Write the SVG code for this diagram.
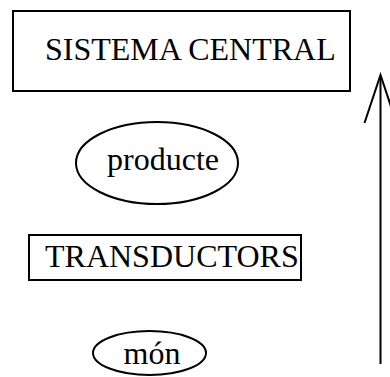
<svg xmlns="http://www.w3.org/2000/svg" width="390" height="377" viewBox="0 0 390 377">
<style>
.s{fill:#fff;stroke:#000;stroke-width:2}
.t{font-family:"Liberation Serif","Times New Roman",serif;font-size:32px;fill:#000}
.c{fill:none;stroke:#000;stroke-width:2}
</style>
<rect width="390" height="377" fill="#fff"/>
<g id="sistema">
<rect class="s" x="13" y="11" width="337" height="80"/>
<text class="t" x="45" y="59.5">SISTEMA CENTRAL</text>
</g>
<g id="producte">
<ellipse class="s" cx="157" cy="163" rx="81" ry="41"/>
<text class="t" x="163" y="170" text-anchor="middle">producte</text>
</g>
<g id="transductors">
<rect class="s" x="29" y="235" width="272" height="45"/>
<text class="t" x="45" y="267">TRANSDUCTORS</text>
</g>
<g id="mon">
<ellipse class="s" cx="149.5" cy="353" rx="56.5" ry="22"/>
<text class="t" x="152" y="363.5" text-anchor="middle">món</text>
</g>
<g id="connectors">
<line class="c" x1="380.5" y1="364" x2="380.5" y2="76"/>
<polyline class="c" points="364.5,123 380.5,75 396.5,123"/>
</g>
</svg>
